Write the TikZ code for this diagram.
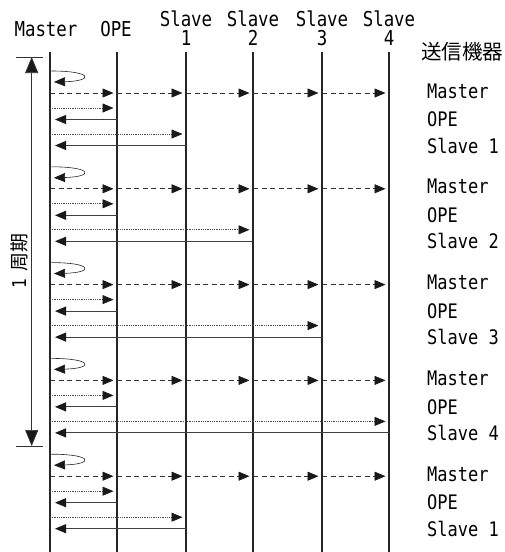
\documentclass[tikz,border=0pt]{standalone}
\usepackage{fontspec}
\setmainfont[FakeStretch=0.85]{DejaVu Sans Mono}
\newfontfamily\jp{Noto Sans CJK JP}
\usetikzlibrary{arrows.meta,calc}
\begin{document}
\begin{tikzpicture}[x=1pt,y=-1pt,
  font=\fontsize{20.5}{19}\selectfont,
  life/.style={line width=1.5pt, draw=black!85},
  mlife/.style={line width=2.6pt, draw=black!85},
  tip/.style={-{Triangle[length=11pt,width=9pt,fill=black!90,color=black!90]}},
  req/.style={tip, densely dotted, line width=0.8pt, draw=black!70, shorten >=3.5pt},
  resp/.style={tip, line width=0.9pt, draw=black!75, shorten >=5pt},
  bcast/.style={tip, line width=0.9pt, draw=black!80, dash pattern=on 5pt off 3.5pt, shorten >=3.5pt},
  selfloop/.style={tip, line width=0.6pt, draw=black!85},
  lbl/.style={anchor=west, inner sep=0pt, font=\fontsize{20}{20}\selectfont},
  hdr/.style={align=center, inner sep=0pt},
  period/.style={line width=0.7pt, draw=black!80, {Triangle[length=16pt,width=13pt,fill=black!90]}-{Triangle[length=16pt,width=13pt,fill=black!90]}},
  tick/.style={line width=0.7pt, draw=black!80}]
\useasboundingbox (0,0) rectangle (504,552);
% lifelines
\foreach \n/\x in {M/50,O/117,S1/186,S2/253,S3/322,S4/389}{
  \coordinate (\n) at (\x,52);
  \coordinate (\n b) at (\x,552);
}
\draw[mlife] (M) -- (Mb);
\foreach \n in {O,S1,S2,S3,S4}{ \draw[life] (\n) -- (\n b); }
% headers
\node[hdr] (hM) at (46,29) {Master};
\node[hdr] (hO) at (116,29) {OPE};
\node[hdr] (hS1) at (186,28.5) {Slave\\1};
\node[hdr] (hS2) at (253,28.5) {Slave\\2};
\node[hdr] (hS3) at (322,28.5) {Slave\\3};
\node[hdr] (hS4) at (389,28.5) {Slave\\4};
\node[inner sep=0pt] (tx) at (462,52) {\fontsize{20.5}{20}\jp 送信機器};
% period
\coordinate (pt) at (31.7,57);
\coordinate (pb) at (31.7,446);
\coordinate (ptl) at (16,57); \coordinate (ptr) at (43,57);
\coordinate (pbl) at (16,446); \coordinate (pbr) at (43,446);
\draw[tick] (ptl) -- (ptr);
\draw[tick] (pbl) -- (pbr);
\draw[period] (pt) -- (pb);
\node[rotate=90, inner sep=0pt] (plabel) at (19,261) {\fontsize{19}{19}\selectfont 1\hspace{8pt}\jp 周期};
% groups
\foreach \k/\s/\sn in {0/S1/1,1/S2/2,2/S3/3,3/S4/4,4/S1/1}{
  \pgfmathsetmacro\d{93+95.8*\k}
  \pgfmathsetmacro\la{\d-22}
  \pgfmathsetmacro\lb{\d-11}
  \pgfmathsetmacro\ya{\d+15}
  \pgfmathsetmacro\yb{\d+26.5}
  \pgfmathsetmacro\yc{\d+41}
  \pgfmathsetmacro\ye{\d+52.5}
  \pgfmathsetmacro\ym{\d-2}
  \coordinate (L1) at ($(M |- 0,\la)+(1.3,0)$);
  \coordinate (L2) at ($(M |- 0,\lb)+(4,0)$);
  \draw[selfloop] (L1) .. controls +(42,0) and +(40,-1) .. (L2);
  \draw[bcast] (M |- 0,\d) -- (O |- 0,\d);
  \draw[bcast] (O |- 0,\d) -- (S1 |- 0,\d);
  \draw[bcast] (S1 |- 0,\d) -- (S2 |- 0,\d);
  \draw[bcast] (S2 |- 0,\d) -- (S3 |- 0,\d);
  \draw[bcast] (S3 |- 0,\d) -- (S4 |- 0,\d);
  \draw[req] (M |- 0,\ya) -- (O |- 0,\ya);
  \draw[resp] (O |- 0,\yb) -- (M |- 0,\yb);
  \draw[req] (M |- 0,\yc) -- (\s |- 0,\yc);
  \draw[resp] (\s |- 0,\ye) -- (M |- 0,\ye);
  \node[lbl] at (427,\ym) {Master};
  \node[lbl] at (427,\yb) {OPE};
  \node[lbl] at (427,\ye) {Slave \sn};
}
\end{tikzpicture}
\end{document}
